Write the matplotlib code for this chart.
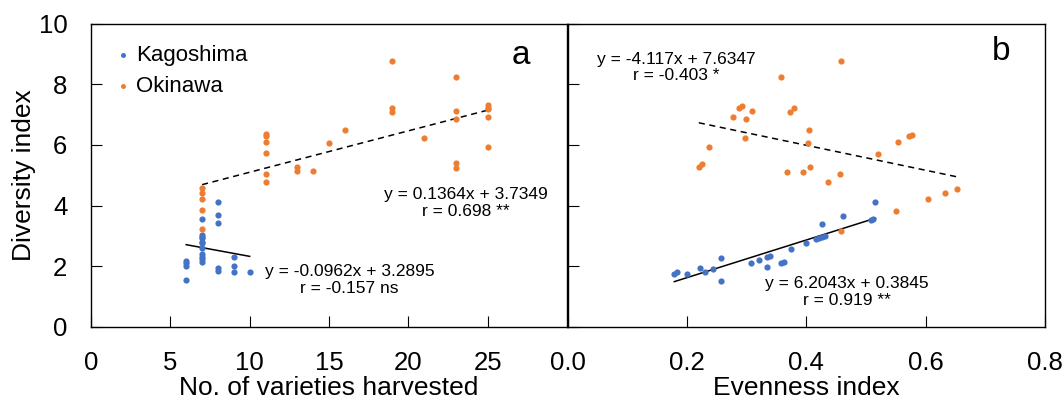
import numpy as np
import matplotlib
matplotlib.use("Agg")
import matplotlib.pyplot as plt

plt.rcParams['font.family'] = ['Liberation Sans', 'DejaVu Sans']

# Panel a: number of varieties harvested vs diversity index
kago_var = [6, 6, 6, 6, 7, 7, 7, 7, 7, 7, 7, 7, 7, 7, 7, 8, 8, 8, 8, 8, 9, 9, 9, 10]
kago_div_a = [2.18, 2.1, 2.0, 1.55, 3.56, 3.03, 2.98, 2.92, 2.81, 2.76, 2.59, 2.40, 2.32, 2.23, 2.13,
              4.13, 3.69, 3.42, 1.93, 1.86, 2.32, 2.01, 1.80, 1.81]
oki_var = [7, 7, 7, 7, 7, 11, 11, 11, 11, 11, 11, 13, 13, 14, 15, 16, 19, 19, 19, 21,
           23, 23, 23, 23, 23, 25, 25, 25, 25, 25]
oki_div_a = [4.57, 4.43, 4.22, 3.85, 3.22, 6.35, 6.29, 6.08, 5.72, 5.04, 4.79, 5.28, 5.13, 5.13,
             6.05, 6.49, 8.75, 7.23, 7.08, 6.24, 8.23, 7.11, 6.86, 5.39, 5.25,
             7.30, 7.23, 7.17, 6.93, 5.93]

# Panel b: evenness index vs diversity index
kago_even = [0.179, 0.184, 0.200, 0.222, 0.230, 0.243, 0.258, 0.258, 0.307, 0.320, 0.334, 0.335,
             0.340, 0.358, 0.362, 0.374, 0.399, 0.417, 0.421, 0.427, 0.431, 0.427, 0.461,
             0.508, 0.512, 0.516]
kago_div_b = [1.76, 1.80, 1.76, 1.95, 1.81, 1.92, 2.28, 1.52, 2.12, 2.21, 1.97, 2.30,
              2.34, 2.12, 2.13, 2.58, 2.76, 2.90, 2.92, 2.97, 3.00, 3.40, 3.67,
              3.53, 3.56, 4.11]
oki_even = [0.220, 0.225, 0.237, 0.277, 0.287, 0.292, 0.299, 0.309, 0.297, 0.357, 0.372, 0.380,
            0.367, 0.394, 0.405, 0.403, 0.407, 0.436, 0.456, 0.458, 0.458, 0.520, 0.554,
            0.572, 0.577, 0.551, 0.604, 0.632, 0.653]
oki_div_b = [5.26, 5.38, 5.92, 6.93, 7.20, 7.29, 6.86, 7.11, 6.24, 8.24, 7.10, 7.22,
             5.12, 5.12, 6.50, 6.05, 5.28, 4.78, 5.03, 3.17, 8.76, 5.71, 6.11,
             6.30, 6.34, 3.83, 4.22, 4.40, 4.56]

# fitted lines (slope, intercept) as printed on the chart
fit_a_kago = (-0.0962, 3.2895)
fit_a_oki = (0.1364, 3.7349)
fit_b_kago = (6.2043, 0.3845)
fit_b_oki = (-4.117, 7.6347)

blue = '#4472C4'
orange = '#ED7D31'

fig = plt.figure(figsize=(10.63, 4.05), dpi=100)
ax1 = fig.add_axes([91/1063, 1-327/405, 476/1063, 303.5/405])
ax2 = fig.add_axes([567.5/1063, 1-327/405, 477.5/1063, 303.5/405])

ms = 20
ax1.scatter(kago_var, kago_div_a, s=ms, color=blue, label='Kagoshima', zorder=3, linewidths=0)
ax1.scatter(oki_var, oki_div_a, s=ms, color=orange, label='Okinawa', zorder=3, linewidths=0)
xx = np.array([min(kago_var), max(kago_var)])
ax1.plot(xx, fit_a_kago[0]*xx + fit_a_kago[1], color='black', lw=1.1)
xx = np.array([min(oki_var), max(oki_var)])
ax1.plot(xx, fit_a_oki[0]*xx + fit_a_oki[1], color='black', lw=1.1, dashes=(4, 3))

ax2.scatter(kago_even, kago_div_b, s=ms, color=blue, zorder=3, linewidths=0)
ax2.scatter(oki_even, oki_div_b, s=ms, color=orange, zorder=3, linewidths=0)
xx = np.array([min(kago_even), max(kago_even)])
ax2.plot(xx, fit_b_kago[0]*xx + fit_b_kago[1], color='black', lw=1.1)
xx = np.array([min(oki_even), max(oki_even)])
ax2.plot(xx, fit_b_oki[0]*xx + fit_b_oki[1], color='black', lw=1.1, dashes=(4, 3))

fs_note = 12.5
ax1.text(16.3, 1.55, 'y = -0.0962x + 3.2895\nr = -0.157 ns', ha='center', va='center',
         fontsize=fs_note, linespacing=1.15)
ax1.text(23.6, 4.08, 'y = 0.1364x + 3.7349\nr = 0.698 **', ha='center', va='center',
         fontsize=fs_note, linespacing=1.15)
ax2.text(0.182, 8.55, 'y = -4.117x + 7.6347\nr = -0.403 *', ha='center', va='center',
         fontsize=fs_note, linespacing=1.15)
ax2.text(0.468, 1.16, 'y = 6.2043x + 0.3845\nr = 0.919 **', ha='center', va='center',
         fontsize=fs_note, linespacing=1.15)
ax1.text(27.1, 8.96, 'a', ha='center', va='center', fontsize=24)
ax2.text(0.727, 9.09, 'b', ha='center', va='center', fontsize=24)

ax1.set_xlim(0, 30)
ax1.set_ylim(0, 10)
ax1.set_xticks([0, 5, 10, 15, 20, 25])
ax1.set_yticks([0, 2, 4, 6, 8, 10])
ax2.set_xlim(0, 0.8)
ax2.set_ylim(0, 10)
ax2.set_xticks([0.0, 0.2, 0.4, 0.6, 0.8])
ax2.set_xticklabels(['0.0', '0.2', '0.4', '0.6', '0.8'])
ax2.set_yticks([0, 2, 4, 6, 8, 10])
ax2.set_yticklabels([])

for ax in (ax1, ax2):
    ax.tick_params(direction='in', length=8, width=0.8, labelsize=18.5, pad=17)
    for sp in ax.spines.values():
        sp.set_linewidth(1.0)

ax1.set_xlabel('No. of varieties harvested', fontsize=19, labelpad=1)
ax2.set_xlabel('Evenness index', fontsize=19, labelpad=1)
ax1.set_ylabel('Diversity index', fontsize=19, labelpad=2)

ax1.legend(loc='upper left', frameon=False, fontsize=16, handlelength=0.6,
           handletextpad=0.3, labelspacing=0.45, borderaxespad=0.3,
           bbox_to_anchor=(0.02, 0.98), markerscale=0.8)

fig.savefig('out.png', dpi=100)
